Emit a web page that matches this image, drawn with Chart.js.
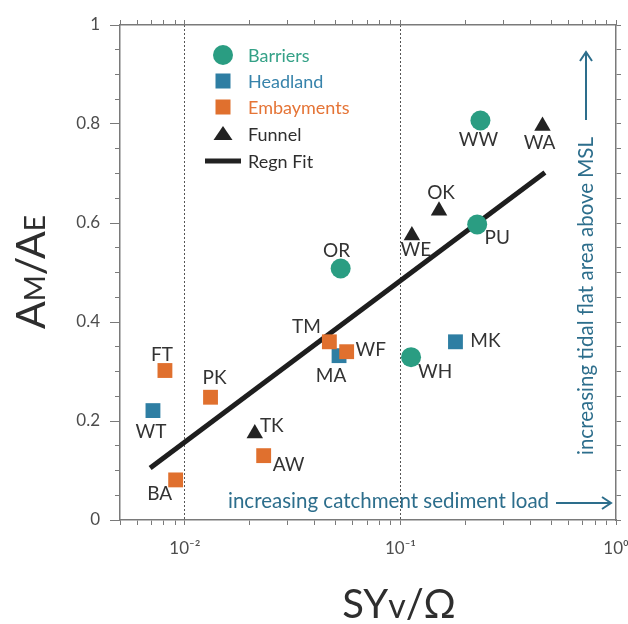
<!DOCTYPE html>
<html>
<head>
<meta charset="utf-8">
<script src="https://cdn.jsdelivr.net/npm/chart.js@4.4.0/dist/chart.umd.min.js"></script>
<style>
  body { margin: 0; background: #fff; }
  canvas { display: block; }
</style>
</head>
<body>
<canvas id="chart" width="628" height="624"></canvas>
<script>
// data
const barrierSites = ['WW', 'PU', 'OR', 'WH'];
const barrierX = [0.235, 0.227, 0.0528, 0.112];
const barrierY = [0.807, 0.597, 0.508, 0.329];

const headlandSites = ['MK', 'MA', 'WT'];
const headlandX = [0.180, 0.0519, 0.00711];
const headlandY = [0.360, 0.332, 0.221];

const embaySites = ['FT', 'TM', 'WF', 'PK', 'AW', 'BA'];
const embayX = [0.00808, 0.0468, 0.0563, 0.01315, 0.0232, 0.00906];
const embayY = [0.302, 0.360, 0.340, 0.248, 0.130, 0.081];

const funnelSites = ['WA', 'OK', 'WE', 'TK'];
const funnelX = [0.456, 0.151, 0.113, 0.0211];
const funnelY = [0.796, 0.625, 0.575, 0.175];

const fitX = [0.0069, 0.468];
const fitY = [0.105, 0.702];

const xMajor = [0.01, 0.1, 1];
const xTickLabels = ['10\u207B\u00B2', '10\u207B\u00B9', '10\u2070'];
const yMajor = [0, 0.2, 0.4, 0.6, 0.8, 1];
const yTickLabels = ['0', '0.2', '0.4', '0.6', '0.8', '1'];

// colours
const teal = '#2a9d82';
const blue = '#2e7ea3';
const orange = '#e0702e';
const dark = '#222222';
const noteColor = '#2d6e8c';

// label offsets in px from the marker centre
const labelOffsets = {
  WW: [-2, 19], WA: [-3, 17], OK: [2, -18], WE: [4, 14], PU: [20, 13],
  OR: [-4, -18], TM: [-23, -15], WF: [24, -2], MA: [-8, 20], MK: [30, -1],
  WH: [24, 15], FT: [-3, -16], PK: [4, -19], WT: [-2, 21], TK: [17, -8],
  AW: [25, 9], BA: [-16, 14]
};

const toPoints = (xs, ys) => xs.map((x, i) => ({ x: x, y: ys[i] }));

// minor log ticks 0.005 .. 1
const logTicks = [];
for (let e = -3; e <= -1; e++) {
  for (let m = 1; m <= 9; m++) {
    const v = +(m * Math.pow(10, e)).toPrecision(6);
    if (v >= 0.005) logTicks.push(v);
  }
}
logTicks.push(1);
const yTickValues = [];
for (let i = 0; i <= 20; i++) yTickValues.push(+(i * 0.05).toFixed(2));

const near = (a, b) => Math.abs(a - b) < 1e-9;
const nearLog = (a, b) => Math.abs(Math.log10(a) - Math.log10(b)) < 1e-6;

const fixBox = (w, h) => (scale) => {
  if (w != null) scale.width = w;
  if (h != null) scale.height = h;
  scale.paddingLeft = 0;
  scale.paddingRight = 0;
  scale.paddingTop = 0;
  scale.paddingBottom = 0;
};

const tickFont = { family: 'Lato', size: 17 };

const decorations = {
  id: 'decorations',
  afterDatasetsDraw(chart) {
    const ctx = chart.ctx;
    const groups = [barrierSites, headlandSites, embaySites, funnelSites];

    // site labels
    ctx.save();
    ctx.font = '19px Lato';
    ctx.fillStyle = '#333';
    ctx.textAlign = 'center';
    ctx.textBaseline = 'middle';
    groups.forEach((sites, di) => {
      const meta = chart.getDatasetMeta(di);
      sites.forEach((s, j) => {
        const pt = meta.data[j];
        const off = labelOffsets[s];
        ctx.fillText(s, pt.x + off[0], pt.y + off[1]);
      });
    });
    ctx.restore();

    // legend
    const lx = 223, tx = 248;
    const rows = [
      { text: 'Barriers', color: teal, txt: '#34a187', y: 55, kind: 'circle' },
      { text: 'Headland', color: blue, txt: '#3783ab', y: 81, kind: 'rect' },
      { text: 'Embayments', color: orange, txt: '#e57436', y: 107, kind: 'rect' },
      { text: 'Funnel', color: dark, txt: '#2e2e2e', y: 134, kind: 'triangle' },
      { text: 'Regn Fit', color: dark, txt: '#2e2e2e', y: 161, kind: 'line' }
    ];
    ctx.save();
    ctx.font = '18px Lato';
    ctx.textBaseline = 'middle';
    rows.forEach(r => {
      ctx.fillStyle = r.color;
      ctx.strokeStyle = r.color;
      ctx.beginPath();
      if (r.kind === 'circle') {
        ctx.arc(lx, r.y, 10, 0, Math.PI * 2);
        ctx.fill();
      } else if (r.kind === 'rect') {
        ctx.fillRect(lx - 7.5, r.y - 7.5, 15, 15);
      } else if (r.kind === 'triangle') {
        ctx.moveTo(lx, r.y - 8);
        ctx.lineTo(lx + 9.5, r.y + 6);
        ctx.lineTo(lx - 9.5, r.y + 6);
        ctx.closePath();
        ctx.fill();
      } else {
        ctx.lineWidth = 5;
        ctx.moveTo(lx - 18, r.y);
        ctx.lineTo(lx + 18, r.y);
        ctx.stroke();
      }
      ctx.fillStyle = r.txt;
      ctx.fillText(r.text, tx, r.y + 1);
    });
    ctx.restore();

    // annotations
    ctx.save();
    ctx.font = '20.5px Lato';
    ctx.fillStyle = noteColor;
    ctx.strokeStyle = noteColor;
    ctx.lineWidth = 2;
    ctx.textBaseline = 'alphabetic';
    ctx.textAlign = 'left';
    ctx.fillText('increasing catchment sediment load', 228, 508);
    ctx.beginPath();
    ctx.moveTo(556, 503); ctx.lineTo(611, 503);
    ctx.moveTo(602, 497); ctx.lineTo(611, 503); ctx.lineTo(602, 509);
    ctx.stroke();

    ctx.save();
    ctx.translate(593, 455);
    ctx.rotate(-Math.PI / 2);
    ctx.fillText('increasing tidal flat area above MSL', 0, 0);
    ctx.restore();
    ctx.beginPath();
    ctx.moveTo(586, 120); ctx.lineTo(586, 52);
    ctx.moveTo(580, 61); ctx.lineTo(586, 52); ctx.lineTo(592, 61);
    ctx.stroke();
    ctx.restore();

    // axis titles
    mixedText(ctx, [
      { text: 'A', font: '41px Lato' }, { text: 'M', font: '28px Lato' },
      { text: '/A', font: '41px Lato' }, { text: 'E', font: '28px Lato' }
    ], 45, 272, true);
    mixedText(ctx, [
      { text: 'SY', font: '40px Lato' }, { text: 'v', font: '34px Lato' },
      { text: '/\u03A9', font: '40px Lato' }
    ], 399, 618, false);
  }
};

function mixedText(ctx, parts, x, y, rotate) {
  ctx.save();
  ctx.translate(x, y);
  if (rotate) ctx.rotate(-Math.PI / 2);
  ctx.fillStyle = '#2e2e2e';
  ctx.textAlign = 'left';
  ctx.textBaseline = 'alphabetic';
  let total = 0;
  parts.forEach(p => { ctx.font = p.font; p.w = ctx.measureText(p.text).width; total += p.w; });
  let cx = -total / 2;
  parts.forEach(p => { ctx.font = p.font; ctx.fillText(p.text, cx, 0); cx += p.w; });
  ctx.restore();
}

const axisBorder = { color: '#7a7a7a', width: 1.5 };

new Chart(document.getElementById('chart'), {
  type: 'scatter',
  data: {
    datasets: [
      { label: 'Barriers', data: toPoints(barrierX, barrierY), pointStyle: 'circle', pointRadius: 10,
        backgroundColor: teal, borderColor: teal, borderWidth: 0, order: 4 },
      { label: 'Headland', data: toPoints(headlandX, headlandY), pointStyle: 'rect', pointRadius: 10.5,
        backgroundColor: blue, borderColor: blue, borderWidth: 0, order: 3 },
      { label: 'Embayments', data: toPoints(embayX, embayY), pointStyle: 'rect', pointRadius: 10.5,
        backgroundColor: orange, borderColor: orange, borderWidth: 0, order: 2 },
      { label: 'Funnel', data: toPoints(funnelX, funnelY), pointStyle: 'triangle', pointRadius: 9.5,
        backgroundColor: dark, borderColor: dark, borderWidth: 0, order: 1 },
      { label: 'Regn Fit', data: toPoints(fitX, fitY), showLine: true, pointRadius: 0,
        borderColor: '#1e1e1e', borderWidth: 5, borderCapStyle: 'butt', fill: false, order: 5 }
    ]
  },
  options: {
    responsive: false,
    animation: false,
    layout: { padding: { left: 70, right: 0, top: 15, bottom: 64 } },
    plugins: { legend: { display: false }, tooltip: { enabled: false } },
    scales: {
      x: {
        type: 'logarithmic', position: 'bottom', min: 0.005, max: 1,
        afterBuildTicks: (s) => { s.ticks = logTicks.map(v => ({ value: v })); },
        afterFit: fixBox(null, 40),
        ticks: {
          autoSkip: false, maxRotation: 0, minRotation: 0, padding: 13, color: '#4d4d4d', font: tickFont,
          callback: (v) => { const i = xMajor.findIndex(m => nearLog(m, v)); return i >= 0 ? xTickLabels[i] : ''; }
        },
        grid: {
          drawOnChartArea: true, tickLength: 5, tickColor: '#7a7a7a', lineWidth: 1,
          color: (c) => (c.tick && (nearLog(c.tick.value, 0.01) || nearLog(c.tick.value, 0.1))) ? '#555' : 'rgba(0,0,0,0)'
        },
        border: { color: '#7a7a7a', width: 1.5, dash: [2, 2] }
      },
      x2: {
        type: 'logarithmic', position: 'top', min: 0.005, max: 1,
        afterBuildTicks: (s) => { s.ticks = logTicks.map(v => ({ value: v })); },
        afterFit: fixBox(null, 10),
        ticks: { display: false },
        grid: { drawOnChartArea: false, tickLength: 5, tickColor: '#7a7a7a' },
        border: axisBorder
      },
      y: {
        type: 'linear', position: 'left', min: 0, max: 1,
        afterBuildTicks: (s) => { s.ticks = yTickValues.map(v => ({ value: v })); },
        afterFit: fixBox(50, null),
        ticks: {
          padding: 10, color: '#4d4d4d', font: tickFont,
          callback: (v) => { const i = yMajor.findIndex(m => near(m, v)); return i >= 0 ? yTickLabels[i] : ''; }
        },
        grid: {
          drawOnChartArea: false, tickLength: 10, tickColor: '#7a7a7a',
          tickBorderDash: (c) => (c.tick && yMajor.some(m => near(m, c.tick.value))) ? [] : [5, 5],
          tickBorderDashOffset: (c) => (c.tick && yMajor.some(m => near(m, c.tick.value))) ? 0 : 5
        },
        border: axisBorder
      },
      y2: {
        type: 'linear', position: 'right', min: 0, max: 1,
        afterBuildTicks: (s) => { s.ticks = yTickValues.map(v => ({ value: v })); },
        afterFit: fixBox(12, null),
        ticks: { display: false },
        grid: { drawOnChartArea: false, tickLength: 5, tickColor: '#7a7a7a' },
        border: axisBorder
      }
    }
  },
  plugins: [decorations]
});
</script>
</body>
</html>
